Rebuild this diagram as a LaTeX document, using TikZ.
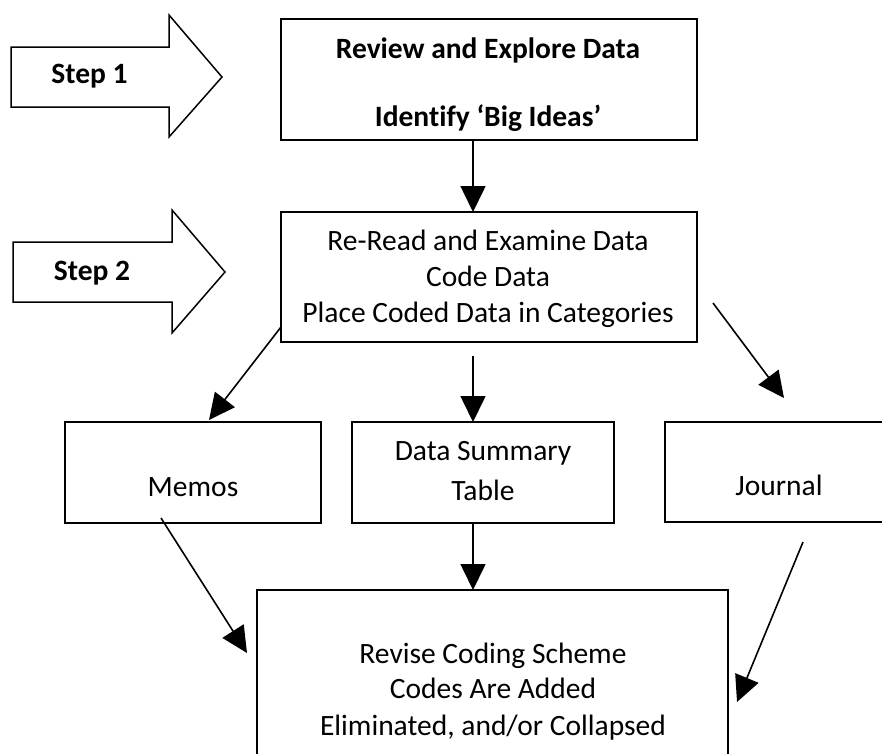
\documentclass[tikz,border=0pt]{standalone}
\usepackage{fontspec}
\setmainfont{Carlito}[Ligatures=NoCommon]
\usetikzlibrary{arrows.meta}
\begin{document}
\begin{tikzpicture}[x=1pt,y=-1pt,
  box/.style={draw, line width=1.8pt, outer sep=0pt, inner sep=0pt},
  txt/.style={anchor=base, inner sep=0pt, font=\fontsize{29.5}{34}\selectfont},
  btxt/.style={txt, font=\fontsize{29.5}{34}\selectfont\bfseries},
  arr/.style={line width=1.6pt, -{Triangle[length=26pt,width=25pt]}},
  blockarrow/.style={draw, line width=1.5pt, line join=miter, fill=white}]
\clip (0,0) rectangle (882,753);
\useasboundingbox (0,0) rectangle (882,753);

% step markers (block arrows)
\draw[blockarrow] (11,47) -- (169,47) -- (169,15) -- (222,77) -- (169,137) -- (169,107) -- (11,107) -- cycle;
\node[btxt] (step1) at (89.5,83) {Step 1};
\draw[blockarrow] (13,242) -- (172,242) -- (172,210) -- (225,272) -- (172,333) -- (172,302) -- (13,302) -- cycle;
\node[btxt] (step2) at (92,280) {Step 2};

% boxes
\node[box, minimum width=416pt, minimum height=121pt] (box1) at (489,79.5) {};
\node[box, minimum width=416pt, minimum height=130pt] (box2) at (489,277) {};
\node[box, minimum width=256pt, minimum height=101pt] (memos) at (193,472.5) {};
\node[box, minimum width=262pt, minimum height=101pt] (dst) at (483,472.5) {};
\node[box, minimum width=230pt, minimum height=100pt] (journal) at (780,472) {};
\node[box, minimum width=471pt, minimum height=200pt] (revise) at (492.5,690) {};

% box texts
\node[btxt] (t1a) at (488,58) {Review and Explore Data};
\node[btxt] (t1b) at (488,126) {Identify ‘Big Ideas’};
\node[txt] (t2a) at (488,250) {Re-Read and Examine Data};
\node[txt] (t2b) at (488,286) {Code Data};
\node[txt] (t2c) at (488,322) {Place Coded Data in Categories};
\node[txt] (tm) at (193,496) {Memos};
\node[txt] (td1) at (483,460) {Data Summary};
\node[txt] (td2) at (483,500) {Table};
\node[txt] (tj) at (779,495) {Journal};
\node[txt] (tr1) at (493,663) {Revise Coding Scheme};
\node[txt] (tr2) at (493,698) {Codes Are Added};
\node[txt] (tr3) at (493,735) {Eliminated, and/or Collapsed};

% connector end points
\coordinate (spine) at (473,0);
\coordinate (mS) at (281,327);
\coordinate (mE) at (209,420);
\coordinate (dS) at (473,356);
\coordinate (jS) at (713,303);
\coordinate (jE) at (784,398);
\coordinate (mB) at (161,518);
\coordinate (rL) at (247,653);
\coordinate (jB) at (803,542);
\coordinate (rR) at (737,702);

% connectors
\draw[arr] (box1.south -| spine) -- (box2.north -| spine);
\draw[arr] (mS) -- (mE);
\draw[arr] (dS) -- (dst.north -| spine);
\draw[arr] (jS) -- (jE);
\draw[arr] (mB) -- (rL);
\draw[arr] (dst.south -| spine) -- (revise.north -| spine);
\draw[arr] (jB) -- (rR);
\end{tikzpicture}
\end{document}
